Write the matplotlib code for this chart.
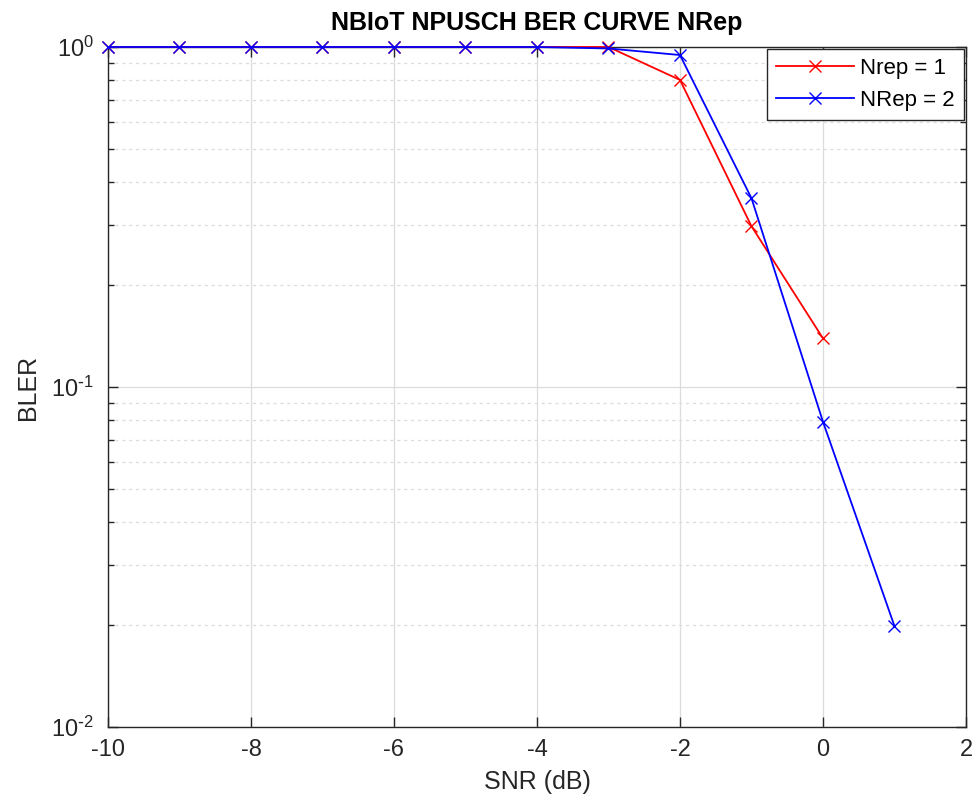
import matplotlib
matplotlib.use("Agg")
import matplotlib.pyplot as plt
from matplotlib.ticker import LogLocator, NullFormatter, FixedFormatter
import numpy as np

plt.rcParams['font.family'] = ['Liberation Sans', 'DejaVu Sans']
plt.rcParams['axes.unicode_minus'] = False

# data
snr1 = [-10, -9, -8, -7, -6, -5, -4, -3, -2, -1, 0]
bler1 = [1, 1, 1, 1, 1, 1, 1, 1.0, 0.80, 0.297, 0.139]
snr2 = [-10, -9, -8, -7, -6, -5, -4, -3, -2, -1, 0, 1]
bler2 = [1, 1, 1, 1, 1, 1, 1, 0.99, 0.947, 0.359, 0.079, 0.0198]
yticks = [0.01, 0.1, 1]
ytick_labels = [r'$\mathdefault{10^{\text{-}2}}$', r'$\mathdefault{10^{\text{-}1}}$',
                r'$\mathdefault{10^{0}}$']

fig = plt.figure(figsize=(9.79, 8.1), dpi=100)
ax = fig.add_axes([0.1103, 0.1025, 0.8764, 0.8395])

ax.semilogy(snr1, bler1, color='#ff0000', marker='x', markersize=9, lw=1.3,
            label='Nrep = 1', clip_on=False, zorder=3)
ax.semilogy(snr2, bler2, color='#0000ff', marker='x', markersize=9, lw=1.3,
            label='NRep = 2', clip_on=False, zorder=3)

ax.set_xlim(-10, 2)
ax.set_ylim(0.01, 1)
ax.set_xticks(np.arange(-10, 3, 2))
ax.set_yticks(yticks)
ax.yaxis.set_major_formatter(FixedFormatter(ytick_labels))
ax.yaxis.set_minor_locator(LogLocator(base=10, subs=np.arange(2, 10), numticks=20))
ax.yaxis.set_minor_formatter(NullFormatter())

ax.grid(True, which='major', color='#dcdcdc', lw=0.9, ls='-')
ax.grid(True, which='minor', axis='y', color='#dcdcdc', lw=0.9, ls=(0, (2.5, 3)))
ax.set_axisbelow(True)

ax.tick_params(which='both', direction='in', top=True, right=True,
               labelsize=17, colors='#262626', width=1)
ax.tick_params(which='major', length=7)
ax.tick_params(which='minor', length=4)
ax.tick_params(axis='x', which='major', pad=9)
ax.tick_params(axis='y', which='major', pad=10)
for s in ax.spines.values():
    s.set_color('#262626')
    s.set_linewidth(1)

ax.set_xlabel('SNR (dB)', fontsize=18, color='#262626', labelpad=6)
ax.set_ylabel('BLER', fontsize=18, color='#262626', labelpad=8)
ax.set_title('NBIoT NPUSCH BER CURVE NRep', fontsize=18, fontweight='bold',
             pad=12)

leg = ax.legend(loc='upper right', fontsize=16, fancybox=False,
                framealpha=1, edgecolor='#262626', handlelength=3.5,
                handletextpad=0.3, borderaxespad=0.1)
leg.get_frame().set_linewidth(1)
leg.set_zorder(5)

fig.savefig('out.png', dpi=100)
